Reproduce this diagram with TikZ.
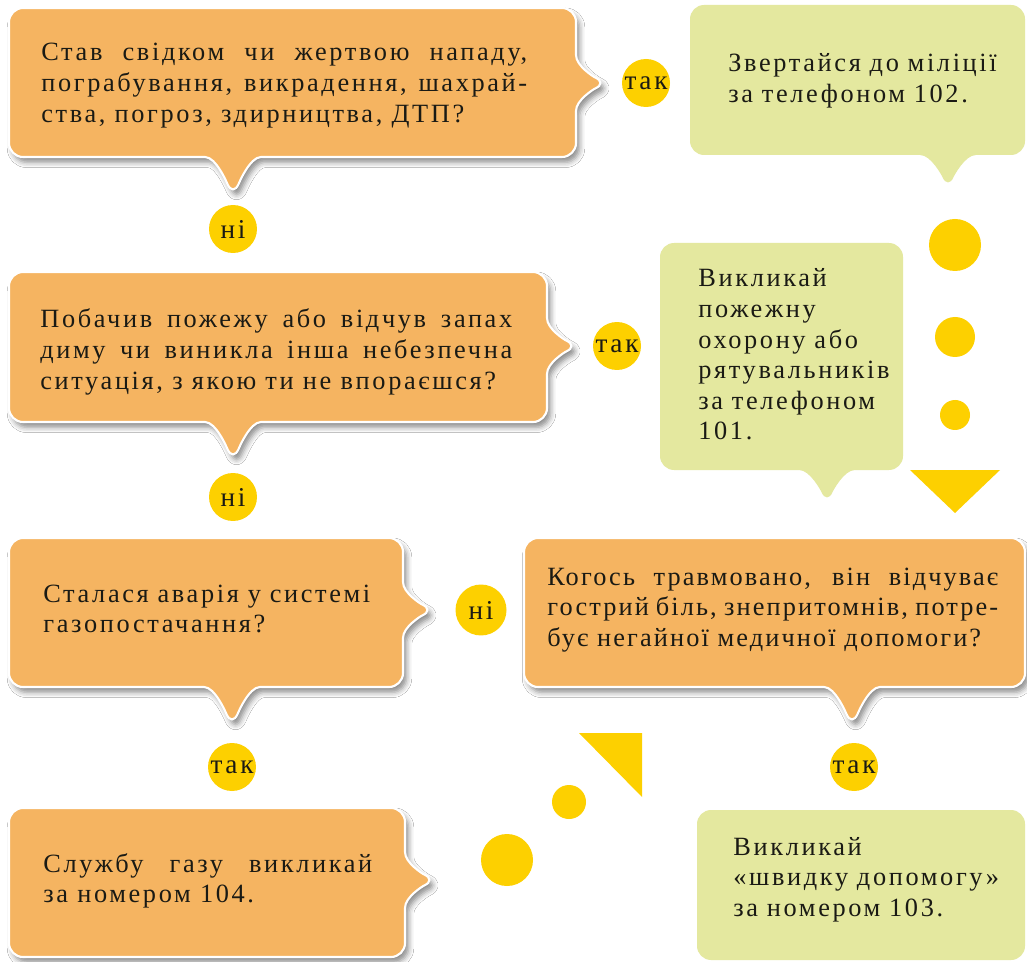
\documentclass[tikz,border=0pt]{standalone}
\usepackage{fontspec}
\setmainfont{Liberation Serif}[LetterSpace=10.0]
\usepackage{xcolor}
\usetikzlibrary{shadows.blur}

\definecolor{orangebox}{HTML}{F5B461}
\definecolor{greenbox}{HTML}{E4E89F}
\definecolor{dotyellow}{HTML}{FDD000}
\definecolor{ink}{HTML}{1A1A14}

\begin{document}
\begin{tikzpicture}[x=0.02cm,y=-0.02cm,
	tail down/.style={insert path={.. controls +(-25,0) and +(6,-14) .. ++(-42,#1)
		.. controls +(-6,-14) and +(25,0) .. ++(-42,-#1)}},
	tail down/.default=40,
	tail right/.style={insert path={.. controls +(0,25) and +(-14,-6) .. ++(32,42)
		.. controls +(-14,6) and +(0,-25) .. ++(-32,42)}},
	qbubble/.style={fill=orangebox,draw=white,line width=1.2pt,rounded corners=8pt,
		blur shadow={shadow xshift=2pt,shadow yshift=-3pt,shadow blur radius=3pt,shadow opacity=45}},
	abubble/.style={fill=greenbox,rounded corners=8pt},
	btext/.style={anchor=base west,inner sep=0pt,text=ink,align=justify,
		font=\fontsize{15}{17.4}\selectfont},
	atext/.style={btext,align=left,text width=6cm},
	yesno/.style={circle,fill=dotyellow,inner sep=0pt,minimum size=0.96cm,text=ink,
		font=\fontsize{15.5}{18}\selectfont}]
	\fill[white] (0,0) rectangle (1027,962);
	\useasboundingbox (0,0) rectangle (1027,962);

%	====================================================================
	\draw[qbubble] (9,80) |- (576,8) -- (576,41) [tail right] |- (275,157) [tail down] -| (9,120) -- cycle;
	\draw[qbubble] (9,340) |- (547,272) -- (547,304) [tail right] |- (275,422) [tail down] -| (9,380) -- cycle;
	\draw[qbubble] (9,600) |- (403,538) -- (403,568) [tail right] |- (274,687) [tail down] -| (9,640) -- cycle;
	\draw[qbubble] (524,600) |- (1025,538) |- (894,687) [tail down] -| (524,640) -- cycle;
	\draw[qbubble] (9,880) |- (405,808) -- (405,838) [tail right] |- (9,957) -- cycle;

	\fill[abubble] (690,80) |- (1025,5) |- (990,155) [tail down=35] -| (690,120) -- cycle;
	\fill[abubble] (660,350) |- (903,243) |- (869,470) [tail down=35] -| (660,400) -- cycle;
	\fill[abubble] (697,810) rectangle (1025,960);

%	====================================================================
	\node[btext,text width=9.72cm] (q1) at (41,61)
		{Став свідком чи жертвою нападу,\linebreak пограбування, викрадення, шахрай-\linebreak ства, погроз, здирництва, ДТП?};
	\node[btext,text width=9.44cm] (q2) at (40,328)
		{Побачив пожежу або відчув запах\linebreak диму чи виникла інша небезпечна\linebreak ситуація, з якою ти не впораєшся?};
	\node[btext,text width=6.54cm] (q3) at (43,602)
		{Сталася аварія у системі\linebreak газопостачання?};
	\node[btext,text width=9.02cm] (q4) at (547,585)
		{\addfontfeature{LetterSpace=8.0}Когось травмовано, він відчуває\linebreak гострий біль, знепритомнів, потре-\linebreak бує негайної медичної допомоги?};
	\node[btext,text width=6.58cm] (a4) at (43,872)
		{Службу газу викликай\linebreak за номером 104.};

	\node[atext] (a1) at (728,72) {Звертайся до міліції\\за телефоном 102.};
	\node[atext] (a2) at (698,287) {Викликай\\пожежну\\охорону або\\рятувальників\\за телефоном\\101.};
	\node[atext] (a3) at (733,855) {Викликай\\«швидку допомогу»\\за номером 103.};

%	====================================================================
	\node[yesno] (yes1) at (646,83) {так};
	\node[yesno] (no1) at (233,229) {ні};
	\node[yesno] (yes2) at (617,346) {так};
	\node[yesno] (no2) at (233,497) {ні};
	\node[yesno,minimum size=1.02cm] (no3) at (481,610) {ні};
	\node[yesno] (yes3) at (232,767) {так};
	\node[yesno] (yes4) at (854,767) {так};

	\fill[dotyellow] (955,245) circle (26);
	\fill[dotyellow] (955,337) circle (20);
	\fill[dotyellow] (955,415) circle (15);
	\fill[dotyellow] (910,470) -- (1000,470) -- (955,513) -- cycle;

	\fill[dotyellow] (579,733) -- (642,733) -- (642,797) -- cycle;
	\fill[dotyellow] (569,802) circle (17);
	\fill[dotyellow] (507,860) circle (26);
\end{tikzpicture}
\end{document}
